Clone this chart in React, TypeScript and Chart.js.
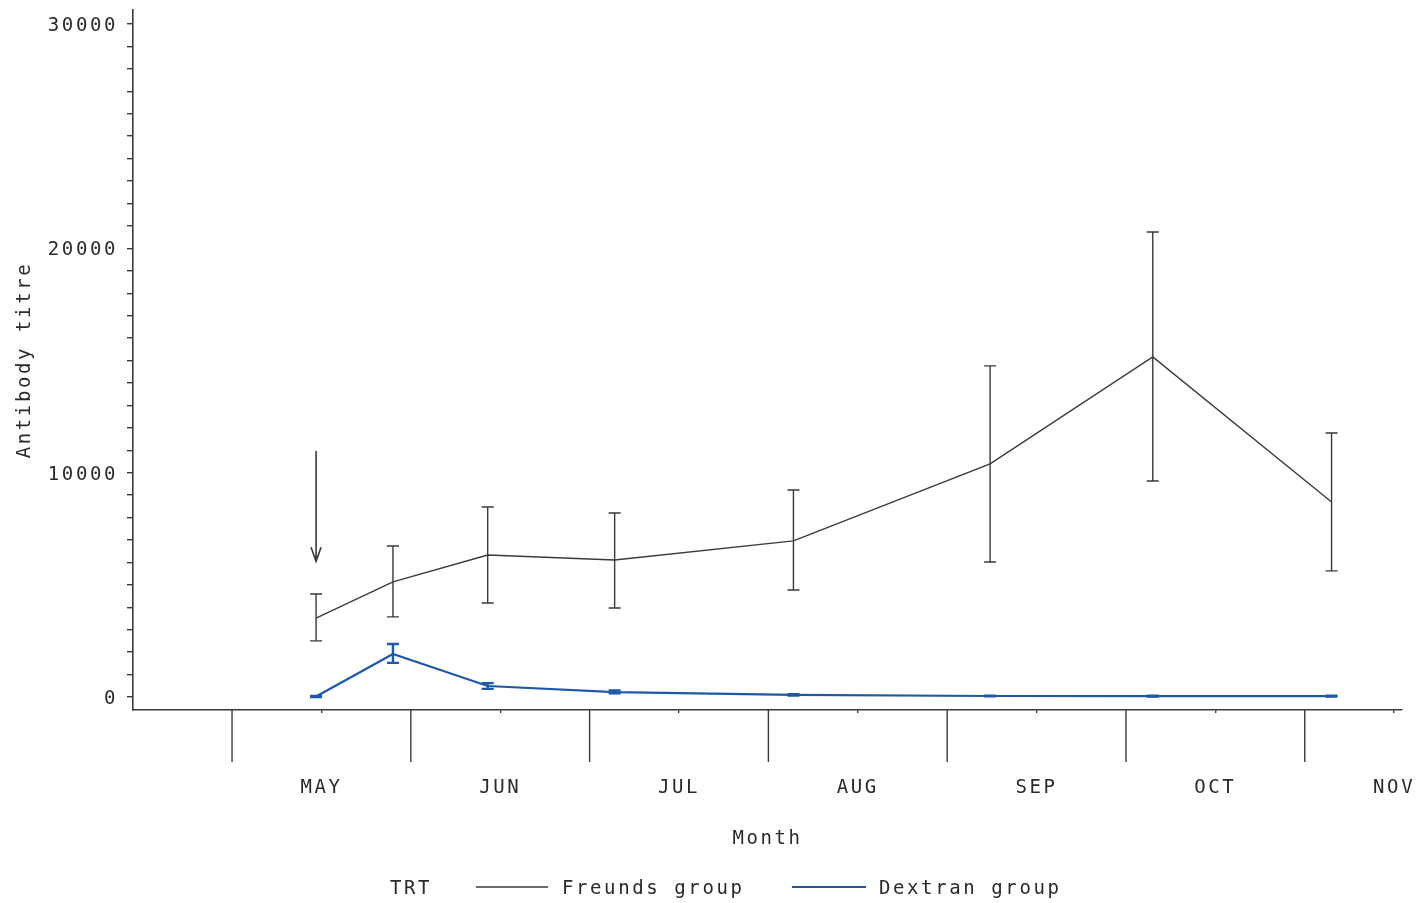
import { useEffect, useRef } from 'react';
import { Chart, registerables } from 'chart.js';

Chart.register(...registerables);

// ---- data ----
const monthLabels = ['MAY', 'JUN', 'JUL', 'AUG', 'SEP', 'OCT', 'NOV'];
const monthLabelPositions = [0.5, 1.5, 2.5, 3.5, 4.5, 5.5, 6.5];
const monthBoundaries = [0, 1, 2, 3, 4, 5, 6];

const sampleMonths = [0.47, 0.9, 1.43, 2.14, 3.14, 4.24, 5.15, 6.15];

const freundsMean = [3520, 5130, 6330, 6110, 6960, 10390, 15160, 8690];
const freundsLow = [2500, 3570, 4190, 3970, 4770, 6020, 9630, 5620];
const freundsHigh = [4590, 6730, 8470, 8200, 9230, 14760, 20730, 11770];

const dextranMean = [20, 1920, 490, 220, 90, 45, 40, 40];
const dextranLow = [0, 1520, 360, 160, 60, 30, 25, 25];
const dextranHigh = [50, 2360, 620, 290, 120, 60, 55, 55];

const yMajorStep = 10000;
const yMinorStep = 1000;
const yTickMax = 30000;

const arrowMonth = 0.47;
const arrowFrom = 10970;
const arrowTo = 6050;

const legendTitle = 'TRT';
const seriesNames = ['Freunds group', 'Dextran group'];

// ---- style ----
const FONT = "'DejaVu Sans Mono', monospace";
const FS = 19;
const TEXT = '#2a2a2a';
const BLACK = '#3a3a3a';
const BLUE = '#1f58a6';
const LS = '2.6px';

const setSpacing = (chart: any) => {
  try {
    (chart.ctx as any).letterSpacing = LS;
  } catch (e) {}
};

const spacingPlugin = {
  id: 'spacing',
  beforeInit: setSpacing,
  beforeUpdate: setSpacing,
  beforeLayout: setSpacing,
  beforeDraw: setSpacing,
};

const extrasPlugin = {
  id: 'extras',
  afterDatasetsDraw(chart: any) {
    const { ctx } = chart;
    const xs = chart.scales.x;
    const ys = chart.scales.y;
    const bars = [
      { low: freundsLow, high: freundsHigh, color: BLACK, w: 1.4 },
      { low: dextranLow, high: dextranHigh, color: BLUE, w: 2.4 },
    ];
    ctx.save();
    bars.forEach((b) => {
      ctx.strokeStyle = b.color;
      ctx.lineWidth = b.w;
      sampleMonths.forEach((m, i) => {
        const px = xs.getPixelForValue(m);
        const y1 = ys.getPixelForValue(b.low[i]);
        const y2 = ys.getPixelForValue(b.high[i]);
        ctx.beginPath();
        ctx.moveTo(px, y1);
        ctx.lineTo(px, y2);
        ctx.moveTo(px - 6, y1);
        ctx.lineTo(px + 6, y1);
        ctx.moveTo(px - 6, y2);
        ctx.lineTo(px + 6, y2);
        ctx.stroke();
      });
    });
    // arrow
    const ax = xs.getPixelForValue(arrowMonth);
    const a1 = ys.getPixelForValue(arrowFrom);
    const a2 = ys.getPixelForValue(arrowTo);
    ctx.strokeStyle = BLACK;
    ctx.lineWidth = 1.6;
    ctx.beginPath();
    ctx.moveTo(ax, a1);
    ctx.lineTo(ax, a2);
    ctx.moveTo(ax - 5, a2 - 14);
    ctx.lineTo(ax, a2);
    ctx.lineTo(ax + 5, a2 - 14);
    ctx.stroke();
    ctx.restore();
  },
  afterDraw(chart: any) {
    const { ctx } = chart;
    const xs = chart.scales.x;
    ctx.save();
    // long month boundary ticks
    ctx.strokeStyle = BLACK;
    ctx.lineWidth = 1.4;
    monthBoundaries.forEach((m) => {
      const px = xs.getPixelForValue(m);
      ctx.beginPath();
      ctx.moveTo(px, xs.top);
      ctx.lineTo(px, xs.top + 52);
      ctx.stroke();
    });
    // legend
    (ctx as any).letterSpacing = LS;
    ctx.font = `${FS}px ${FONT}`;
    ctx.fillStyle = TEXT;
    ctx.textBaseline = 'middle';
    ctx.textAlign = 'left';
    const ly = 887;
    ctx.fillText(legendTitle, 390, ly + 2);
    ctx.fillText(seriesNames[0], 562, ly + 2);
    ctx.fillText(seriesNames[1], 879, ly + 2);
    ctx.lineWidth = 1.6;
    ctx.strokeStyle = BLACK;
    ctx.beginPath();
    ctx.moveTo(476, ly);
    ctx.lineTo(548, ly);
    ctx.stroke();
    ctx.lineWidth = 2.2;
    ctx.strokeStyle = BLUE;
    ctx.beginPath();
    ctx.moveTo(792, ly);
    ctx.lineTo(866, ly);
    ctx.stroke();
    ctx.restore();
  },
};

export default function App() {
  const ref = useRef<HTMLCanvasElement | null>(null);

  useEffect(() => {
    document.body.style.margin = '0';
    document.body.style.background = '#ffffff';
    const canvas = ref.current;
    if (!canvas) return;
    const chart = new Chart(canvas, {
      type: 'line',
      data: {
        datasets: [
          {
            label: seriesNames[0],
            data: sampleMonths.map((m, i) => ({ x: m, y: freundsMean[i] })),
            borderColor: BLACK,
            borderWidth: 1.4,
            pointRadius: 0,
            tension: 0,
            fill: false,
          },
          {
            label: seriesNames[1],
            data: sampleMonths.map((m, i) => ({ x: m, y: dextranMean[i] })),
            borderColor: BLUE,
            borderWidth: 2.2,
            pointRadius: 0,
            tension: 0,
            fill: false,
          },
        ],
      },
      options: {
        responsive: false,
        animation: false,
        devicePixelRatio: 1,
        layout: { padding: { top: 10, right: 25, left: 0, bottom: 0 } },
        plugins: {
          legend: { display: false },
          tooltip: { enabled: false },
        },
        scales: {
          x: {
            type: 'linear',
            min: -0.554,
            max: 6.544,
            afterBuildTicks: (scale: any) => {
              scale.ticks = monthLabelPositions.map((v) => ({ value: v }));
            },
            afterFit: (scale: any) => {
              scale.height = 193;
              scale.paddingLeft = 0;
              scale.paddingRight = 0;
            },
            ticks: {
              autoSkip: false,
              maxRotation: 0,
              minRotation: 0,
              padding: 64,
              color: TEXT,
              font: { family: FONT, size: FS },
              callback: (_v: any, i: number) => monthLabels[i],
            },
            grid: {
              drawOnChartArea: false,
              drawTicks: true,
              tickLength: 3,
              color: BLACK,
              lineWidth: 1.4,
            },
            border: { display: true, color: BLACK, width: 1.6 },
            title: {
              display: true,
              text: 'Month',
              color: TEXT,
              font: { family: FONT, size: FS },
              padding: { top: 0, bottom: 53 },
            },
          },
          y: {
            type: 'linear',
            min: -580,
            max: 30625,
            afterBuildTicks: (scale: any) => {
              const t: any[] = [];
              for (let v = 0; v <= yTickMax; v += yMinorStep) t.push({ value: v });
              scale.ticks = t;
            },
            afterFit: (scale: any) => {
              scale.width = 133;
              scale.paddingTop = 0;
              scale.paddingBottom = 0;
            },
            ticks: {
              autoSkip: false,
              padding: 9,
              labelOffset: 2,
              color: TEXT,
              font: { family: FONT, size: FS },
              callback: (v: any) => (Number(v) % yMajorStep === 0 ? String(v) : ''),
            },
            grid: {
              drawOnChartArea: false,
              drawTicks: true,
              tickLength: 6,
              color: BLACK,
              lineWidth: 1.4,
            },
            border: { display: true, color: BLACK, width: 1.6 },
            title: {
              display: true,
              text: 'Antibody titre',
              color: TEXT,
              font: { family: FONT, size: FS },
              padding: { top: 14, bottom: 0 },
            },
          },
        },
      },
      plugins: [spacingPlugin, extrasPlugin],
    } as any);
    return () => chart.destroy();
  }, []);

  return (
    <div style={{ position: 'fixed', left: 0, top: 0, width: 1427, height: 903, overflow: 'hidden', background: '#fff' }}>
      <canvas ref={ref} width={1427} height={903} style={{ width: 1427, height: 903, display: 'block' }} />
    </div>
  );
}
